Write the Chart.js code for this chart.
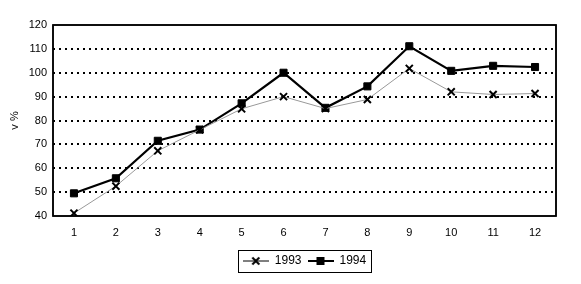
<!DOCTYPE html>
<html><head><meta charset="utf-8">
<script src="https://cdn.jsdelivr.net/npm/chart.js@4/dist/chart.umd.min.js"></script>
<style>html,body{margin:0;padding:0;background:#fff}#wrap{width:581px;height:284px}</style>
</head><body><div id="wrap"><canvas id="c" width="581" height="284"></canvas></div>
<script>
const months = ['1','2','3','4','5','6','7','8','9','10','11','12'];
const s1993 = [41.2, 52.5, 67.3, 76.1, 84.9, 90, 85, 88.8, 101.8, 92, 90.9, 91.3];
const s1994 = [49.5, 55.8, 71.5, 76.2, 87.2, 100, 85.3, 94.3, 111.1, 100.8, 102.9, 102.4];
const yTicks = [40, 50, 60, 70, 80, 90, 100, 110, 120];
const yTitle = 'v %';
const FONT = 'Liberation Sans, Arial, sans-serif';

function legendIcon(kind){
  const c = document.createElement('canvas');
  c.width = 26; c.height = 10;
  const g = c.getContext('2d');
  g.strokeStyle = '#000';
  g.lineWidth = kind === 'x' ? 1 : 2;
  g.beginPath(); g.moveTo(0,5); g.lineTo(26,5); g.stroke();
  if (kind === 'x') {
    g.lineWidth = 2;
    g.beginPath(); g.moveTo(9.5,1.5); g.lineTo(16.5,8.5); g.moveTo(16.5,1.5); g.lineTo(9.5,8.5); g.stroke();
  } else { g.fillStyle = '#000'; g.fillRect(9,1,8,8); }
  return c;
}
const icons = [legendIcon('x'), legendIcon('sq')];

function drawFrame(chart){
  const ctx = chart.ctx, a = chart.chartArea;
  ctx.save();
  ctx.setLineDash([]);
  ctx.globalAlpha = 1;
  ctx.strokeStyle = '#000'; ctx.lineWidth = 1.5;
  ctx.strokeRect(a.left, a.top, a.right - a.left, a.bottom - a.top);
  ctx.restore();
}

const framePlugin = {
  id: 'frame',
  afterLayout(chart){
    const lg = chart.legend;
    if (lg) {
      const a = chart.chartArea;
      const d = (a.left + a.right) / 2 - (lg.left + lg.right) / 2;
      lg.left += d; lg.right += d;
    }
  },
  afterDatasetsDraw(chart){ drawFrame(chart); },
  afterDraw(chart){
    drawFrame(chart);
    const ctx = chart.ctx;
    const hb = chart.legend && chart.legend.legendHitBoxes;
    if (hb && hb.length){
      let l = Infinity, r = -Infinity, t = Infinity, b = -Infinity;
      hb.forEach(h => { l = Math.min(l,h.left); r = Math.max(r,h.left+h.width); t = Math.min(t,h.top); b = Math.max(b,h.top+h.height); });
      ctx.save();
      ctx.setLineDash([]);
      ctx.strokeStyle = '#000'; ctx.lineWidth = 1;
      ctx.strokeRect(Math.round(l-5)+0.5, Math.round(t-5)+0.5, Math.round(r-l+10), Math.round(b-t+10));
      ctx.restore();
    }
  }
};

new Chart(document.getElementById('c'), {
  type: 'line',
  data: {
    labels: months,
    datasets: [
      { label: '1993', data: s1993, borderColor: '#999', borderWidth: 1, pointStyle: 'crossRot', pointRadius: 5, pointBorderColor: '#000', pointBorderWidth: 2, pointBackgroundColor: '#000', tension: 0 },
      { label: '1994', data: s1994, borderColor: '#000', borderWidth: 2.2, pointStyle: 'rect', pointRadius: 5, pointBorderColor: '#000', pointBackgroundColor: '#000', pointBorderWidth: 1, tension: 0 }
    ]
  },
  options: {
    responsive: false, animation: false,
    layout: { padding: { top: 25, right: 25, left: 2, bottom: 7 } },
    plugins: {
      tooltip: { enabled: false },
      legend: { position: 'bottom',
        labels: { usePointStyle: true, pointStyleWidth: 26, boxHeight: 10, padding: 6, color: '#000', font: { family: FONT, size: 12 },
          generateLabels(chart){ return chart.data.datasets.map((d,i) => ({ text: d.label, pointStyle: icons[i], datasetIndex: i, fillStyle: '#000', strokeStyle: '#000', hidden: false })); } } }
    },
    scales: {
      x: { offset: true, afterFit(scale){ scale.height = 33; }, grid: { display: false, drawTicks: false }, border: { display: false },
        ticks: { color: '#000', padding: 10, font: { family: FONT, size: 11 } } },
      y: { min: 40, max: 120, afterFit(scale){ scale.width = 51; }, afterBuildTicks(axis){ axis.ticks = yTicks.map(v => ({ value: v })); },
        grid: { drawTicks: false, color: ctx => (ctx.tick && (ctx.tick.value === 40 || ctx.tick.value === 120)) ? 'rgba(0,0,0,0)' : '#000', lineWidth: 2 },
        border: { display: false, dash: [2, 4] },
        title: { display: true, text: yTitle, color: '#000', font: { family: FONT, size: 11 }, padding: { top: 6, bottom: 4 } },
        ticks: { color: '#000', padding: 6, font: { family: FONT, size: 11 } } }
    }
  },
  plugins: [framePlugin]
});
</script>
</body></html>
